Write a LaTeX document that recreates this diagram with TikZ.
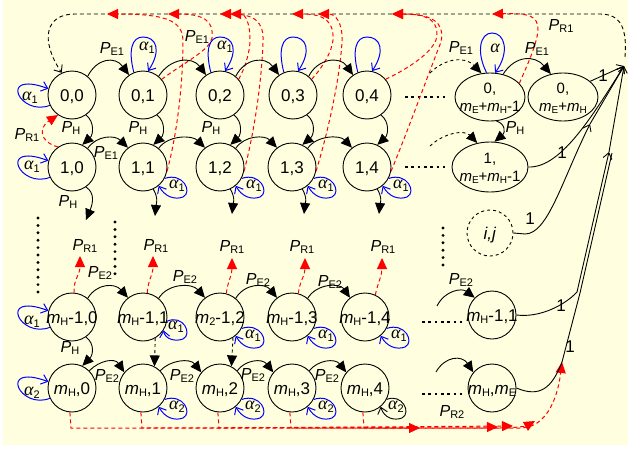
\documentclass[tikz,border=0pt]{standalone}
\usepackage{fontspec}
\setmainfont{Liberation Sans}
\newfontfamily\grkfont{Liberation Serif}
\usetikzlibrary{arrows.meta,shapes.geometric}
\definecolor{bgy}{HTML}{FFFFE0}
\newcommand\Psub[1]{\textit{P}\raisebox{-2pt}{\fontsize{11}{11}\selectfont #1}}
\newcommand\alsub[1]{{\grkfont\itshape\fontsize{18}{18}\selectfont α}\raisebox{-3pt}{\fontsize{11}{11}\selectfont #1}}
\newcommand\msub[1]{\textit{m}\raisebox{-2pt}{\fontsize{11}{11}\selectfont #1}}
\newcommand\esub[1]{\textit{m}\raisebox{-2pt}{\fontsize{10}{10}\selectfont #1}}
\newcommand\nt[1]{\raisebox{-6pt}[0pt][0pt]{\makebox[0pt]{#1}}}
\newcommand\twol[2]{\raisebox{-5.5pt}[0pt][0pt]{\makebox[0pt]{\begin{tabular}{@{}c@{}}#1\\#2\end{tabular}}}}
\begin{document}
\begin{tikzpicture}[x=1pt,y=-1pt,
 st/.style={circle,draw,line width=0.9pt,minimum size=48pt,inner sep=0pt,font=\fontsize{17}{19}\selectfont},
 ste/.style={ellipse,draw,line width=0.9pt,minimum width=70pt,minimum height=48pt,inner sep=0pt,font=\fontsize{15}{18}\selectfont},
 lab/.style={inner sep=0pt,font=\fontsize{16}{16}\selectfont},
 one/.style={inner sep=0pt,font=\fontsize{17}{17}\selectfont},
 tr/.style={draw,line width=0.9pt,-{Triangle[length=11pt,width=10pt]}},
 ba/.style={draw,line width=0.9pt,-{Straight Barb[length=6pt,width=9pt]}},
 bl/.style={draw=blue,line width=1pt,-{Straight Barb[length=6pt,width=10pt]}},
 bk/.style={draw=black,line width=0.9pt,-{Straight Barb[length=6pt,width=10pt]}},
 rd/.style={draw=red,line width=1pt,dash pattern=on 4pt off 3pt,-{Triangle[length=11pt,width=10pt]}},
 dsh/.style={dash pattern=on 4pt off 3pt},
 hd/.style={line width=2.6pt,dash pattern=on 2.6pt off 3.7pt},
 vd/.style={line width=3.2pt,line cap=round,dash pattern=on 0pt off 7.4pt}
]
\useasboundingbox (0,0) rectangle (630,450);
\fill[white] (0,0) rectangle (630,450);
\fill[bgy] (3,0) rectangle (628,445);

% ---------- nodes ----------
\node[st] (n00) at (72,95) {\nt{0,0}};
\node[st] (n01) at (143,95) {\nt{0,1}};
\node[st] (n02) at (220,95) {\nt{0,2}};
\node[st] (n03) at (293,95) {\nt{0,3}};
\node[st] (n04) at (367,95) {\nt{0,4}};
\node[ste] (n0E) at (490,97) {\twol{0,}{\esub{E}+\esub{H}-1}};
\node[ste] (n0F) at (563,97) {\twol{0,}{\esub{E}+\esub{H}}};
\node[st] (n10) at (72,167) {\nt{1,0}};
\node[st] (n11) at (143,167) {\nt{1,1}};
\node[st] (n12) at (220,167) {\nt{1,2}};
\node[st] (n13) at (292,167) {\nt{1,3}};
\node[st] (n14) at (367,167) {\nt{1,4}};
\node[ste,minimum width=76pt,minimum height=50pt] (n1E) at (490,167) {\twol{1,}{\esub{E}+\esub{H}-1}};
\node[st,dashed,minimum size=46pt] (nij) at (490,233) {\nt{\textit{i,j}}};
\node[st] (nA0) at (72,317) {\nt{\msub{H}-1,0}};
\node[st] (nA1) at (143,317) {\nt{\msub{H}-1,1}};
\node[st] (nA2) at (220,317) {\nt{\msub{2}-1,2}};
\node[st] (nA3) at (292,317) {\nt{\msub{H}-1,3}};
\node[st] (nA4) at (365,317) {\nt{\msub{H}-1,4}};
\node[st] (nAE) at (492,315) {\nt{\msub{H}-1,1}};
\node[st] (nB0) at (72,388) {\nt{\msub{H},0}};
\node[st] (nB1) at (143,388) {\nt{\msub{H},1}};
\node[st] (nB2) at (220,388) {\nt{\msub{H},2}};
\node[st] (nB3) at (292,388) {\nt{\msub{H},3}};
\node[st] (nB4) at (365,388) {\nt{\msub{H},4}};
\node[st] (nBE) at (492,388) {\nt{\msub{H},\msub{E}}};

% ---------- dots ----------
\draw[hd] (405,97) -- (445,97);
\draw[hd] (405,167) -- (445,167);
\draw[hd] (422,322) -- (462,322);
\draw[hd] (422,394) -- (462,394);
\draw[vd] (38,218) -- (38,292);
\draw[vd] (115,222) -- (115,277);
\draw[vd] (443,228) -- (443,266);

% ---------- free ends ----------
\coordinate (d0) at (430,73);
\coordinate (d1) at (430,146);
\coordinate (dA) at (437,306);
\coordinate (dB) at (436,372);
\coordinate (C) at (624,66);
\coordinate (Cd) at (625,57);
\coordinate (m1) at (590,124);
\coordinate (m2) at (609,152);
\coordinate (j1) at (577,292);
\coordinate (j2) at (580,293);
\coordinate (m3) at (612,153);
\coordinate (cR) at (562,362);
\coordinate (e10) at (86,220);
\coordinate (e11) at (155,216);
\coordinate (e12) at (232,214);
\coordinate (e13) at (304,214);
\coordinate (e14) at (379,214);
\coordinate (rA0) at (80,256);
\coordinate (rA1) at (153,256);
\coordinate (rA2) at (232,258);
\coordinate (rA3) at (305,258);
\coordinate (rA4) at (382,258);
\coordinate (t1) at (107,14);
\coordinate (t2) at (168,14);
\coordinate (t3) at (220,14);
\coordinate (t4) at (230,14);
\coordinate (t5) at (292,14);
\coordinate (t6) at (318,14);
\coordinate (t7) at (392,14);
\coordinate (t8) at (492,14);
\coordinate (b1) at (420,428);
\coordinate (b2) at (498,427);
\coordinate (b3) at (513,426);
\coordinate (b4) at (535,421);

% ---------- top black dashed P_R1 ----------
\draw[bk,dsh] (Cd) .. controls (627,30) and (622,14) .. (600,14) -- (75,14) .. controls (45,14) and (40,40) .. (n00.115);

% ---------- red dashed to top ----------
\draw[rd] (n11.-10) .. controls (178,130) and (183,80) .. (183,42) .. controls (183,22) and (170,14) .. (t1);
\draw[rd] (n01.40) .. controls (185,62) and (210,50) .. (212,38) .. controls (214,22) and (205,14) .. (t2);
\draw[rd] (n12.-10) .. controls (256,125) and (262,75) .. (263,42) .. controls (264,22) and (255,14) .. (t3);
\draw[rd] (n02.40) .. controls (245,68) and (250,52) .. (250,40) .. controls (250,22) and (245,14) .. (t4);
\draw[rd] (n03.40) .. controls (322,68) and (332,52) .. (333,40) .. controls (334,22) and (325,14) .. (t5);
\draw[rd] (n13.-10) .. controls (330,125) and (340,75) .. (342,42) .. controls (343,22) and (335,14) .. (t6);
\draw[rd] (n04.40) .. controls (405,70) and (430,55) .. (436,40) .. controls (440,22) and (430,14) .. (t7);
\draw[rd] (n14.-10) .. controls (410,125) and (428,75) .. (441,42) .. controls (445,22) and (432,14) .. (t7);
\draw[rd] (n0E.25) .. controls (525,70) and (537,45) .. (538,30) .. controls (538,16) and (530,13) .. (t8);
\draw[rd] (n10.125) .. controls (40,142) and (38,128) .. (n00.-125);

% ---------- row 0 ----------
\draw[tr] (n00.50) .. controls (97,58) and (115,56) .. (n01.125);
\draw[tr] (n01.50) .. controls (170,58) and (192,56) .. (n02.125);
\draw[tr] (n02.50) .. controls (245,58) and (265,56) .. (n03.125);
\draw[tr] (n03.50) .. controls (318,58) and (340,56) .. (n04.125);
\draw[tr,dashed] (d0) .. controls (445,58) and (465,56) .. (n0E.110);
\draw[tr] (n0E.60) .. controls (515,55) and (535,55) .. (n0F.118);
% row 0 -> row 1
\draw[tr] (n00.-55) .. controls (95,122) and (93,135) .. (n10.65);
\draw[tr] (n01.-55) .. controls (166,122) and (164,135) .. (n11.65);
\draw[tr] (n02.-55) .. controls (243,122) and (241,135) .. (n12.65);
\draw[tr] (n03.-55) .. controls (316,122) and (314,135) .. (n13.65);
\draw[tr] (n04.-55) .. controls (390,122) and (388,135) .. (n14.65);
\draw[tr] (n0E.-75) .. controls (506,124) and (505,133) .. (n1E.80);
% row 1
\draw[tr] (n10.50) .. controls (97,135) and (115,135) .. (n11.128);
\draw[tr] (n11.50) .. controls (168,135) and (192,135) .. (n12.128);
\draw[tr] (n12.50) .. controls (245,135) and (265,135) .. (n13.128);
\draw[tr] (n13.50) .. controls (317,135) and (340,135) .. (n14.128);
\draw[tr,dashed] (d1) .. controls (445,132) and (465,130) .. (n1E.118);
\draw[tr] (n10.-55) .. controls (95,193) and (93,203) .. (e10);
\draw[tr] (n11.-65) .. controls (159,199) and (156,205) .. (e11);
\draw[tr] (n12.-65) .. controls (236,199) and (233,204) .. (e12);
\draw[tr] (n13.-65) .. controls (308,199) and (305,204) .. (e13);
\draw[tr] (n14.-65) .. controls (383,199) and (380,204) .. (e14);

% ---------- row mH-1 ----------
\draw[tr] (nA0.50) .. controls (97,283) and (115,283) .. (nA1.128);
\draw[tr] (nA1.50) .. controls (168,283) and (192,283) .. (nA2.128);
\draw[tr] (nA2.50) .. controls (245,283) and (265,283) .. (nA3.128);
\draw[tr] (nA3.50) .. controls (317,283) and (340,283) .. (nA4.128);
\draw[tr] (dA) .. controls (445,290) and (462,288) .. (nAE.135);
\draw[rd] (nA0.85) .. controls (73,280) and (80,275) .. (rA0);
\draw[rd] (nA1.80) .. controls (148,280) and (153,275) .. (rA1);
\draw[rd] (nA2.75) .. controls (228,280) and (232,276) .. (rA2);
\draw[rd] (nA3.75) .. controls (300,280) and (305,276) .. (rA3);
\draw[rd] (nA4.65) .. controls (378,282) and (382,276) .. (rA4);
\draw[tr] (nA0.-55) .. controls (95,344) and (93,355) .. (nB0.65);
\draw[tr,dashed] (nA1.-60) -- (nB1.62);
\draw[tr,dashed] (nA2.-58) -- (nB2.62);

% ---------- row mH ----------
\draw[tr] (nB0.45) .. controls (100,360) and (115,358) .. (nB1.140);
\draw[tr] (nB1.45) .. controls (170,360) and (190,358) .. (nB2.140);
\draw[tr] (nB2.45) .. controls (245,360) and (262,358) .. (nB3.140);
\draw[tr] (nB3.45) .. controls (318,360) and (335,358) .. (nB4.140);
\draw[tr] (dB) .. controls (445,356) and (462,355) .. (nBE.140);
\draw[rd] (nB0.-95) -- (71,428) -- (b1);
\draw[rd] (nB1.-95) -- (142,428) -- (b2);
\draw[rd] (nB2.-95) -- (219,428) -- (b3);
\draw[rd] (nB3.-95) -- (291,428) -- (500,428) .. controls (520,428) and (528,425) .. (b4);
\draw[rd] (nB4.-95) -- (364,428) -- (520,428) .. controls (548,428) and (558,395) .. (cR);

% ---------- lines into C ----------
\draw[ba] (n0F.30) -- (C);
\draw[ba] (n1E.east) .. controls (560,168) and (590,120) .. (C);
\draw[ba] (nij.east) -- (525,234) .. controls (548,234) and (562,180) .. (m1);
\draw[ba] (m1) -- (C);
\draw[line width=0.9pt] (nAE.east) .. controls (540,318) and (565,305) .. (j1);
\draw[ba] (j1) -- (m2);
\draw[ba] (m2) -- (C);
\draw[line width=0.9pt] (nBE.east) .. controls (540,398) and (552,388) .. (cR);
\draw[line width=0.9pt] (cR) -- (j2) -- (m3);

% ---------- loops ----------
\draw[bl] (n00.-155) .. controls (20,117) and (-3,70) .. (n00.165);
\draw[bl] (n10.-155) .. controls (20,189) and (-3,142) .. (n10.165);
\draw[bl] (nA0.-155) .. controls (20,339) and (-3,292) .. (nA0.165);
\draw[bl] (nB0.-155) .. controls (20,410) and (-3,363) .. (nB0.165);
\draw[bl] (n01.112) .. controls (128,50) and (132,37) .. (143,37) .. controls (156,37) and (162,50) .. (n01.78);
\draw[bl] (n02.112) .. controls (205,50) and (209,37) .. (220,37) .. controls (233,37) and (239,50) .. (n02.78);
\draw[bl] (n03.112) .. controls (278,50) and (282,37) .. (293,37) .. controls (306,37) and (312,50) .. (n03.78);
\draw[bl] (n04.112) .. controls (352,50) and (356,37) .. (367,37) .. controls (380,37) and (386,50) .. (n04.78);
\draw[bl] (n0E.98) .. controls (476,52) and (480,33) .. (492,33) .. controls (505,33) and (510,52) .. (n0E.78);
\draw[bl] (n11.-28) .. controls (183,172) and (193,192) .. (183,197) .. controls (175,200) and (165,197) .. (n11.-50);
\draw[bl] (n12.-28) .. controls (260,172) and (270,192) .. (260,197) .. controls (252,200) and (242,197) .. (n12.-50);
\draw[bl] (n13.-28) .. controls (332,172) and (342,192) .. (332,197) .. controls (324,200) and (314,197) .. (n13.-50);
\draw[bl] (n14.-28) .. controls (407,172) and (417,192) .. (407,197) .. controls (399,200) and (389,197) .. (n14.-50);
\draw[bl] (nA1.-10) .. controls (183,314) and (193,334) .. (183,339) .. controls (175,342) and (165,339) .. (nA1.-33);
\draw[bl] (nA2.-28) .. controls (260,322) and (270,342) .. (260,347) .. controls (252,350) and (242,347) .. (nA2.-50);
\draw[bl] (nA3.-28) .. controls (332,322) and (342,342) .. (332,347) .. controls (324,350) and (314,347) .. (nA3.-50);
\draw[bl] (nA4.-28) .. controls (405,322) and (415,342) .. (405,347) .. controls (397,350) and (387,347) .. (nA4.-50);
\draw[bl] (nB1.-28) .. controls (183,393) and (193,413) .. (183,418) .. controls (175,421) and (165,418) .. (nB1.-50);
\draw[bl] (nB2.-28) .. controls (260,393) and (270,413) .. (260,418) .. controls (252,421) and (242,418) .. (nB2.-50);
\draw[bl] (nB3.-28) .. controls (332,393) and (342,413) .. (332,418) .. controls (324,421) and (314,418) .. (nB3.-50);
\draw[bk] (nB4.-28) .. controls (402,393) and (412,413) .. (402,418) .. controls (394,421) and (384,418) .. (nB4.-50);

% ---------- labels ----------
\node[lab] (l1) at (112,49) {\Psub{E1}};
\node[lab] (l2) at (197,37) {\Psub{E1}};
\node[lab] (l3) at (461,48) {\Psub{E1}};
\node[lab] (l4) at (537,49) {\Psub{E1}};
\node[lab] (l5) at (106,153) {\Psub{E1}};
\node[lab] (l6) at (71,128) {\Psub{H}};
\node[lab] (l7) at (138,128) {\Psub{H}};
\node[lab] (l8) at (211,128) {\Psub{H}};
\node[lab] (l9) at (515,128) {\Psub{H}};
\node[lab] (l10) at (68,202) {\Psub{H}};
\node[lab] (l11) at (70,348) {\Psub{H}};
\node[lab] (l12) at (27,135) {\Psub{R1}};
\node[lab] (l13) at (561,26) {\Psub{R1}};
\node[lab] (l14) at (85,246) {\Psub{R1}};
\node[lab] (l15) at (156,246) {\Psub{R1}};
\node[lab] (l16) at (232,247) {\Psub{R1}};
\node[lab] (l17) at (302,247) {\Psub{R1}};
\node[lab] (l18) at (383,247) {\Psub{R1}};
\node[lab] (l19) at (100,273) {\Psub{E2}};
\node[lab] (l20) at (185,277) {\Psub{E2}};
\node[lab] (l21) at (258,280) {\Psub{E2}};
\node[lab] (l22) at (330,282) {\Psub{E2}};
\node[lab] (l23) at (461,280) {\Psub{E2}};
\node[lab] (l24) at (107,376) {\Psub{E2}};
\node[lab] (l25) at (182,376) {\Psub{E2}};
\node[lab] (l26) at (253,375) {\Psub{E2}};
\node[lab] (l27) at (327,376) {\Psub{E2}};
\node[lab] (l28) at (452,412) {\Psub{R2}};
\node[lab] (a1) at (30,98) {\alsub{1}};
\node[lab] (a2) at (32,167) {\alsub{1}};
\node[lab] (a3) at (32,322) {\alsub{1}};
\node[lab] (a4) at (32,393) {\alsub{2}};
\node[lab] (a5) at (147,48) {\alsub{1}};
\node[lab] (a6) at (225,47) {\alsub{1}};
\node[lab] (a7) at (495,48) {{\grkfont\itshape\fontsize{18}{18}\selectfont α}};
\node[lab] (a8) at (177,186) {\alsub{1}};
\node[lab] (a9) at (254,186) {\alsub{1}};
\node[lab] (a10) at (326,186) {\alsub{1}};
\node[lab] (a11) at (401,186) {\alsub{1}};
\node[lab] (a12) at (176,327) {\alsub{1}};
\node[lab] (a13) at (253,336) {\alsub{1}};
\node[lab] (a14) at (326,336) {\alsub{1}};
\node[lab] (a15) at (399,336) {\alsub{1}};
\node[lab] (a16) at (177,407) {\alsub{2}};
\node[lab] (a17) at (253,407) {\alsub{2}};
\node[lab] (a18) at (326,407) {\alsub{2}};
\node[lab] (a19) at (396,407) {\alsub{2}};
\node[one] (o1) at (603,76) {1};
\node[one] (o2) at (562,153) {1};
\node[one] (o3) at (530,219) {1};
\node[one] (o4) at (561,306) {1};
\node[one] (o5) at (570,347) {1};
\end{tikzpicture}
\end{document}
